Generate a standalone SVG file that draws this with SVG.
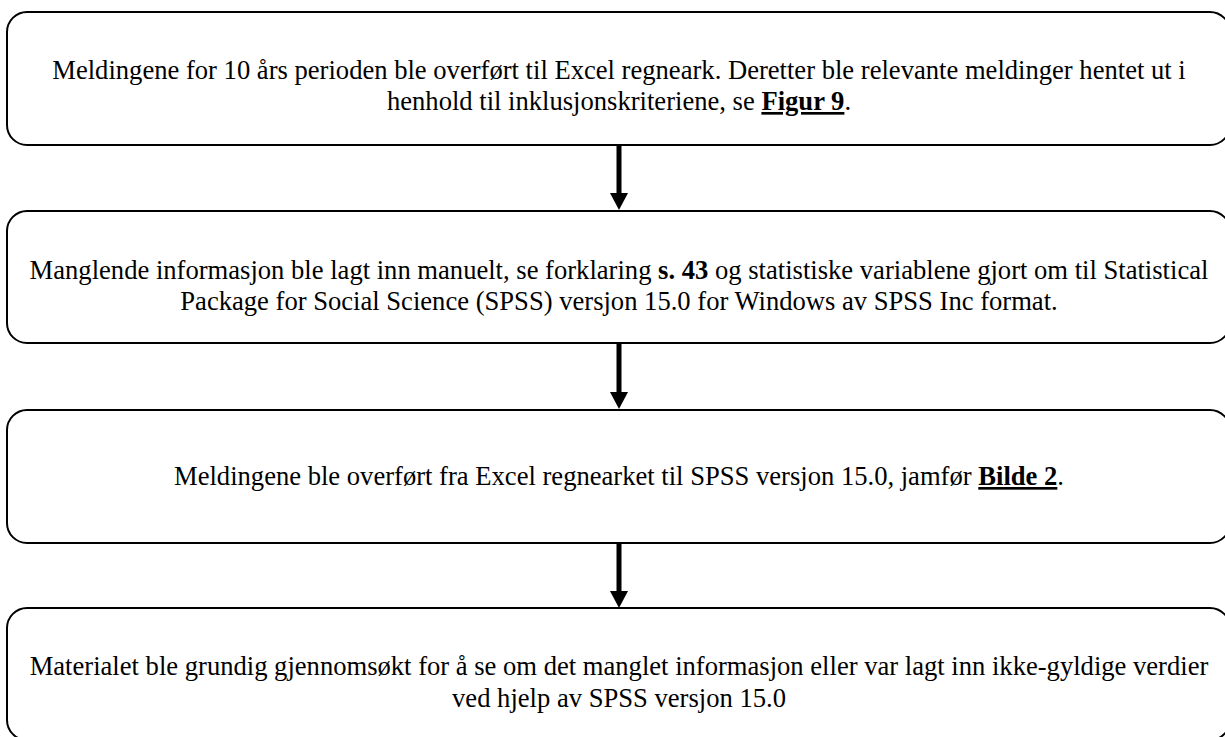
<svg xmlns="http://www.w3.org/2000/svg" width="1225" height="737" viewBox="0 0 1225 737">
<style>
.box{fill:#fff;stroke:#000;stroke-width:2}
.t{font-family:"Liberation Serif","Times New Roman",serif;font-size:26.6px;fill:#000;text-anchor:middle}
.b{font-weight:bold}
.u{text-decoration:underline}
.shaft{stroke:#000;stroke-width:5}
.head{fill:#000}
</style>
<rect width="1225" height="737" fill="#fff"/>
<g id="connectors">
<line class="shaft" x1="619" y1="145" x2="619" y2="194"/><polygon class="head" points="610,193 628,193 619,210"/>
<line class="shaft" x1="619" y1="344" x2="619" y2="393"/><polygon class="head" points="610,392 628,392 619,409"/>
<line class="shaft" x1="619" y1="544" x2="619" y2="592"/><polygon class="head" points="610,591 628,591 619,608"/>
</g>
<g id="node1">
<rect class="box" x="7" y="12" width="1223" height="133" rx="20"/>
<text class="t" x="619" y="79">Meldingene for 10 års perioden ble overført til Excel regneark. Deretter ble relevante meldinger hentet ut i</text>
<text class="t" x="619" y="110">henhold til inklusjonskriteriene, se <tspan class="b u">Figur 9</tspan>.</text>
</g>
<g id="node2">
<rect class="box" x="7" y="211" width="1223" height="132" rx="20"/>
<text class="t" x="619" y="279">Manglende informasjon ble lagt inn manuelt, se forklaring <tspan class="b">s. 43</tspan> og statistiske variablene gjort om til Statistical</text>
<text class="t" x="619" y="310">Package for Social Science (SPSS) versjon 15.0 for Windows av SPSS Inc format.</text>
</g>
<g id="node3">
<rect class="box" x="7" y="410" width="1223" height="133" rx="20"/>
<text class="t" x="619" y="485">Meldingene ble overført fra Excel regnearket til SPSS versjon 15.0, jamfør <tspan class="b u">Bilde 2</tspan>.</text>
</g>
<g id="node4">
<rect class="box" x="7" y="608" width="1223" height="132" rx="20"/>
<text class="t" x="619" y="675">Materialet ble grundig gjennomsøkt for å se om det manglet informasjon eller var lagt inn ikke-gyldige verdier</text>
<text class="t" x="619" y="707">ved hjelp av SPSS versjon 15.0</text>
</g>
</svg>
